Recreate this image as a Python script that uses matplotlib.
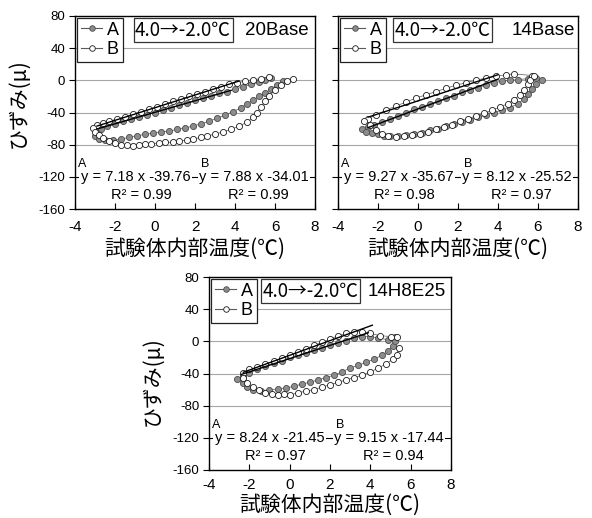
import matplotlib
matplotlib.use("Agg")
import matplotlib.pyplot as plt
from matplotlib.lines import Line2D

plt.rcParams['font.family'] = ['Liberation Sans', 'Noto Sans CJK JP', 'DejaVu Sans']
plt.rcParams['axes.unicode_minus'] = False

# ---------------- data ----------------
x_ticks = [-4, -2, 0, 2, 4, 6, 8]
y_ticks = [-160, -120, -80, -40, 0, 40, 80]
grid_levels = [-80, -40, 0, 40]
axis_cross_y = -120

cycle_label = "4.0→-2.0℃"
specimens = ["20Base", "14Base", "14H8E25"]
x_label = "試験体内部温度(℃)"
y_label = "ひずみ(μ)"

# 20Base
a1_x = [5.8, 5.5, 5.2, 4.8, 4.4, 4.0, 3.6, 3.2, 2.8, 2.4, 2.0, 1.6, 1.2, 0.8, 0.4, 0.0, -0.4, -0.8,
        -1.2, -1.6, -2.0, -2.4, -2.7, -2.9, -3.0,
        -2.8, -2.5, -2.1, -1.7, -1.3, -0.9, -0.5, -0.1, 0.3, 0.7, 1.1, 1.5, 1.9, 2.3, 2.7, 3.1,
        3.5, 3.9, 4.3, 4.6, 4.9, 5.2, 5.5, 5.8, 6.1, 6.4]
a1_y = [3, 1, -2, -5, -8, -11, -14, -16, -19, -22, -25, -28, -31, -34, -37, -40, -43, -46,
        -48, -51, -54, -57, -61, -65, -69,
        -73, -74, -74, -73, -71, -69, -67, -66, -64, -63, -61, -59, -57, -54, -51, -47,
        -43, -39, -34, -29, -25, -20, -16, -11, -6, -1]
b1_x = [5.7, 5.3, 4.9, 4.5, 4.1, 3.7, 3.3, 2.9, 2.5, 2.1, 1.7, 1.3, 0.9, 0.5, 0.1, -0.3, -0.7,
        -1.1, -1.5, -1.9, -2.3, -2.6, -2.9, -3.1,
        -3.0, -2.8, -2.6, -2.3, -2.0, -1.7, -1.4, -1.1, -0.8, -0.5, -0.2, 0.2, 0.5, 0.9, 1.2,
        1.6, 1.9, 2.3, 2.6, 3.0, 3.4, 3.8, 4.2, 4.6, 4.9, 5.1, 5.3, 5.5, 5.7, 6.0, 6.3, 6.6, 6.9]
b1_y = [4, 2, 1, -1, -3, -5, -8, -11, -14, -17, -20, -23, -26, -30, -33, -36, -39,
        -42, -45, -48, -51, -53, -56, -59,
        -64, -68, -72, -75, -78, -80, -81, -82, -80, -79, -79, -78, -77, -77, -76,
        -74, -73, -71, -69, -67, -64, -61, -57, -52, -46, -40, -33, -26, -20, -12, -6, -1, 2]

# 14Base
a2_x = [5.9, 5.5, 5.0, 4.6, 4.2, 3.8, 3.4, 3.0, 2.6, 2.2, 1.8, 1.4, 1.0, 0.6, 0.2, -0.2, -0.6,
        -1.0, -1.4, -1.8, -2.2, -2.5, -2.8,
        -2.6, -2.3, -2.0, -1.7, -1.4, -1.0, -0.6, -0.2, 0.2, 0.6, 1.0, 1.4, 1.8, 2.2, 2.6,
        3.0, 3.4, 3.8, 4.2, 4.6, 5.0, 5.3, 5.5, 5.7, 5.9, 6.2]
a2_y = [3, 2, 1, 0, -1, -3, -6, -9, -12, -15, -19, -22, -26, -29, -33, -36, -40,
        -44, -48, -52, -55, -58, -61,
        -64, -66, -67, -69, -69, -69, -68, -67, -65, -62, -60, -57, -54, -52, -49,
        -46, -43, -40, -37, -34, -29, -23, -17, -11, -5, 0]
b2_x = [5.7, 4.8, 4.4, 3.9, 3.4, 2.9, 2.4, 1.9, 1.4, 0.9, 0.4, -0.1, -0.6, -1.1, -1.6, -2.1,
        -2.5, -2.7,
        -2.4, -2.1, -1.8, -1.5, -1.1, -0.7, -0.3, 0.1, 0.5, 0.9, 1.3, 1.7, 2.1, 2.5, 2.9,
        3.3, 3.7, 4.1, 4.5, 4.8, 5.1, 5.3, 5.5, 5.6, 5.8]
b2_y = [6, 8, 7, 5, 3, 0, -3, -6, -10, -14, -18, -22, -27, -32, -37, -43,
        -48, -51,
        -56, -62, -67, -69, -70, -69, -68, -67, -64, -61, -58, -55, -51, -48, -44,
        -41, -37, -33, -29, -24, -18, -12, -5, 1, 6]

# 14H8E25
a3_x = [5.2, 4.9, 4.4, 4.0, 3.6, 3.2, 2.8, 2.4, 2.0, 1.6, 1.2, 0.8, 0.4, 0.0, -0.4, -0.8,
        -1.2, -1.6, -2.0, -2.3, -2.6,
        -2.3, -2.1, -1.8, -1.4, -1.0, -0.6, -0.2, 0.2, 0.6, 1.0, 1.4, 1.8, 2.2, 2.6, 3.0,
        3.4, 3.8, 4.2, 4.6, 4.9, 5.1, 5.2]
a3_y = [6, 2, 4, 6, 6, 4, 1, -2, -5, -8, -11, -14, -17, -20, -24, -27,
        -31, -35, -39, -43, -47,
        -52, -57, -61, -62, -61, -59, -58, -56, -53, -51, -48, -45, -42, -38, -33,
        -30, -26, -22, -17, -12, -6, 0]
b3_x = [5.3, 5.0, 4.5, 4.0, 3.6, 3.2, 2.8, 2.4, 2.0, 1.6, 1.2, 0.8, 0.4, 0.0, -0.4, -0.8,
        -1.2, -1.6, -2.0, -2.3,
        -2.3, -2.1, -1.8, -1.5, -1.2, -0.9, -0.6, -0.3, 0.0, 0.4, 0.8, 1.2, 1.6, 2.0, 2.4,
        2.8, 3.2, 3.6, 4.0, 4.4, 4.8, 5.1, 5.3, 5.4]
b3_y = [5, 6, 7, 10, 12, 12, 10, 7, 3, -1, -5, -9, -13, -17, -21, -25,
        -28, -32, -35, -39,
        -45, -52, -57, -61, -64, -66, -67, -66, -67, -64, -62, -60, -57, -54, -51,
        -48, -45, -42, -38, -33, -28, -22, -17, -8]

# linear fits: slope, intercept, R^2, x-range
fit_a = [(7.18, -39.76, 0.99, (-2.9, 3.8)), (9.27, -35.67, 0.98, (-2.5, 4.0)), (8.24, -21.45, 0.97, (-2.4, 3.9))]
fit_b = [(7.88, -34.01, 0.99, (-2.9, 4.2)), (8.12, -25.52, 0.97, (-2.5, 4.0)), (9.15, -17.44, 0.94, (-2.3, 4.1))]

series_a = [(a1_x, a1_y), (a2_x, a2_y), (a3_x, a3_y)]
series_b = [(b1_x, b1_y), (b2_x, b2_y), (b3_x, b3_y)]

# ---------------- layout ----------------
W, H = 592, 518
fig = plt.figure(figsize=(W / 100, H / 100), dpi=100)

def frac(left, top, right, bottom):
    return [left / W, 1 - bottom / H, (right - left) / W, (bottom - top) / H]

rects = [frac(75, 16, 315, 209), frac(338, 16, 578, 209), frac(209, 277, 451, 470)]
box_x = [0.25, 0.235, 0.22]
name_x = [0.71, 0.725, 0.655]
ylab_y = [0.55, None, 0.46]
xlab_y = [-0.15, -0.15, -0.122]
xtick_pad = [8, 8, 6]

gray_face = '#8c8c8c'
gray_edge = '#4a4a4a'
link_col = '#5a5a5a'
cjk = ['Noto Sans CJK JP', 'DejaVu Sans']

for i, rect in enumerate(rects):
    ax = fig.add_axes(rect)
    ax.set_xlim(x_ticks[0], x_ticks[-1])
    ax.set_ylim(y_ticks[0], y_ticks[-1])

    for g in grid_levels:
        ax.axhline(g, color='#a6a6a6', lw=0.8, zorder=0)
    ax.axhline(axis_cross_y, color='black', lw=0.8, zorder=1)

    ax_x, ax_y = series_a[i]
    bx, by = series_b[i]
    ax.plot(ax_x, ax_y, '-', color=link_col, lw=0.5, marker='o', ms=4.4,
            mfc=gray_face, mec=gray_edge, mew=0.6, zorder=3)
    ax.plot(bx, by, '-', color=link_col, lw=0.5, marker='o', ms=4.4,
            mfc='white', mec='#1a1a1a', mew=0.6, zorder=4)

    for (k, b, r2, (x0, x1)) in (fit_a[i], fit_b[i]):
        ax.plot([x0, x1], [k * x0 + b, k * x1 + b], color='black', lw=1.0, zorder=5)

    # regression annotations
    ka, ba, ra, _ = fit_a[i]
    kb, bb, rb, _ = fit_b[i]
    wb = dict(boxstyle='square,pad=0.1', fc='white', ec='none')
    ax.text(-3.85, -104, "A", fontsize=9, ha='left', va='center', zorder=6)
    ax.text(2.3, -104, "B", fontsize=9, ha='left', va='center', zorder=6)
    ax.text(-3.72, axis_cross_y, f"y = {ka:.2f} x {ba:.2f}", fontsize=10.5, ha='left',
            va='center', bbox=wb, zorder=6)
    ax.text(2.2, axis_cross_y, f"y = {kb:.2f} x {bb:.2f}", fontsize=10.5, ha='left',
            va='center', bbox=wb, zorder=6)
    ax.text(-0.7, -142, f"R² = {ra:.2f}", fontsize=10.5, ha='center', va='center', zorder=6)
    ax.text(5.15, -142, f"R² = {rb:.2f}", fontsize=10.5, ha='center', va='center', zorder=6)

    # legend and headers
    handles = [Line2D([], [], color=link_col, lw=0.8, marker='o', ms=4, mfc=gray_face,
                      mec=gray_edge, mew=0.6),
               Line2D([], [], color=link_col, lw=0.8, marker='o', ms=4, mfc='white',
                      mec='#1a1a1a', mew=0.6)]
    leg = ax.legend(handles, ["A", "B"], loc='upper left', fontsize=13,
                    handlelength=1.2, handletextpad=0.25, borderpad=0.2,
                    labelspacing=0.15, borderaxespad=0.12, frameon=True,
                    fancybox=False, edgecolor='#222222', framealpha=1)
    leg.get_frame().set_linewidth(0.9)
    leg.set_zorder(7)
    ax.text(box_x[i], 0.925, cycle_label, transform=ax.transAxes, fontsize=13.5,
            family=cjk, ha='left', va='center', zorder=7,
            bbox=dict(boxstyle='square,pad=0.08', fc='white', ec='#333333', lw=0.9))
    ax.text(name_x[i], 0.925, specimens[i], transform=ax.transAxes, fontsize=13.5,
            ha='left', va='center', zorder=7,
            bbox=dict(boxstyle='square,pad=0.05', fc='white', ec='none'))

    # axes styling
    for s in ax.spines.values():
        s.set_linewidth(1.0)
        s.set_color('black')
        s.set_zorder(8)
    ax.set_xticks(x_ticks)
    ax.set_xticklabels([str(v) for v in x_ticks], fontsize=11)
    ax.set_yticks(y_ticks)
    ax.tick_params(axis='x', direction='in', length=4, width=0.8, pad=xtick_pad[i], top=False)
    ax.tick_params(axis='y', direction='out', length=4, width=0.8, pad=3, right=False)
    if i == 1:
        ax.set_yticklabels([])
    else:
        ax.set_yticklabels([str(v) for v in y_ticks], fontsize=9.5)
        ax.set_ylabel(y_label, fontsize=15, family=cjk)
        ax.yaxis.set_label_coords(-0.19, ylab_y[i])
    ax.set_xlabel(x_label, fontsize=15, family=cjk)
    ax.xaxis.set_label_coords(0.5, xlab_y[i])

fig.savefig("out.png", dpi=100)
